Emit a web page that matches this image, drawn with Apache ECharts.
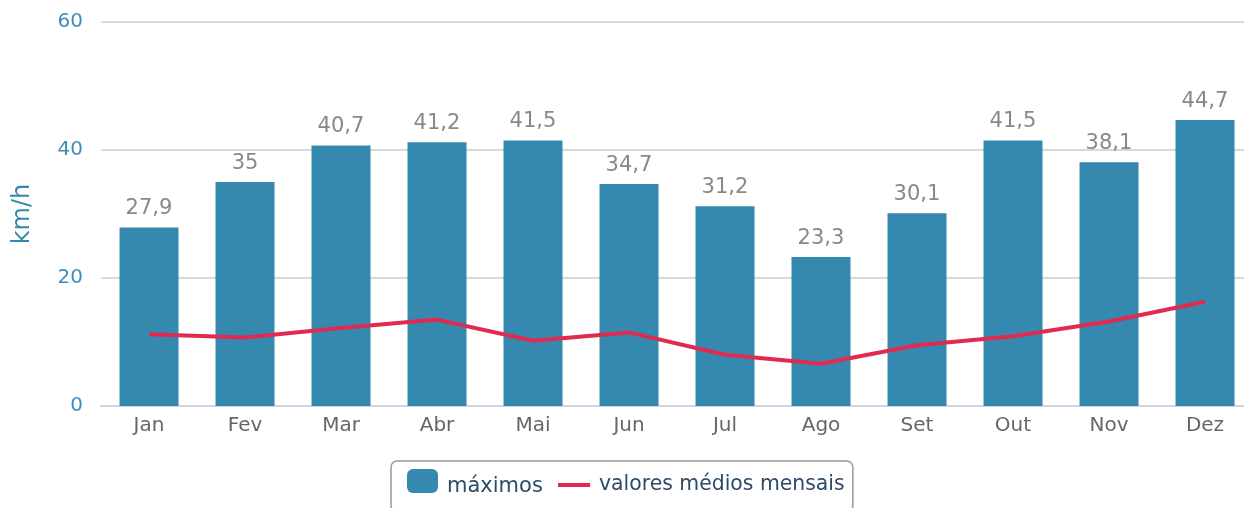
<!DOCTYPE html>
<html><head><meta charset="utf-8">
<script src="https://cdn.jsdelivr.net/npm/echarts@6/dist/echarts.min.js"></script>
<style>html,body{margin:0;padding:0;background:#fff}#c{width:1244px;height:508px}</style>
</head><body><div id="c"></div>
<script>
const categories = ['Jan','Fev','Mar','Abr','Mai','Jun','Jul','Ago','Set','Out','Nov','Dez'];
const maximos = [27.9, 35, 40.7, 41.2, 41.5, 34.7, 31.2, 23.3, 30.1, 41.5, 38.1, 44.7];
const medios = [11.2, 10.7, 12.2, 13.5, 10.2, 11.5, 8.0, 6.6, 9.5, 10.9, 13.2, 16.3];
const yTicks = [0, 20, 40, 60];

const font = 'DejaVu Sans';
const chart = echarts.init(document.getElementById('c'), null, {renderer: 'canvas'});
chart.setOption({
  animation: false,
  textStyle: {fontFamily: font},
  grid: {left: 101, top: 22, width: 1152, bottom: 102, outerBoundsMode: 'none', containLabel: false},
  legend: [
    {
      left: 391, top: 461,
      padding: [8, 310, 14, 16],
      borderColor: '#999', borderWidth: 1.5, borderRadius: 6,
      itemWidth: 31, itemHeight: 24,
      formatter: '{a|{name}}',
      textStyle: {fontFamily: font, fontSize: 21, color: '#2e4a68',
        rich: {a: {fontFamily: font, fontSize: 21, color: '#2e4a68', padding: [12, 0, 0, 4]}}},
      data: [{name: 'máximos', icon: 'roundRect'}]
    },
    {
      left: 558, top: 475,
      padding: 0,
      itemWidth: 32, itemHeight: 4,
      textStyle: {fontFamily: font, fontSize: 20.4, color: '#2e4a68', padding: [0, 0, 0, 4]},
      data: [{name: 'valores médios mensais', icon: 'rect'}]
    }
  ],
  xAxis: {
    type: 'category', data: categories,
    axisLine: {lineStyle: {color: '#ccd6eb', width: 2}},
    axisTick: {length: 10, lineStyle: {color: '#ccd6eb', width: 2}},
    axisLabel: {color: '#666', fontSize: 20, margin: 10, fontFamily: font}
  },
  yAxis: {
    type: 'value', min: yTicks[0], max: yTicks[yTicks.length - 1], interval: 20,
    name: 'km/h', nameLocation: 'middle', nameRotate: 90, nameGap: 66,
    nameTextStyle: {color: '#3587ae', fontSize: 24, fontFamily: font},
    axisLine: {show: false}, axisTick: {show: false},
    axisLabel: {color: '#3d8eb9', fontSize: 20, margin: 18, fontFamily: font},
    splitLine: {lineStyle: {color: '#cccccc', width: 1.5}}
  },
  series: [
    {
      name: 'máximos', type: 'bar', data: maximos, barWidth: 59,
      itemStyle: {color: '#3588ae'},
      label: {show: true, position: 'top', distance: 8, color: '#888', fontSize: 21, fontFamily: font,
        formatter: p => String(p.value).replace('.', ',')}
    },
    {
      name: 'valores médios mensais', type: 'line', data: medios,
      symbol: 'none', lineStyle: {color: '#e12a50', width: 4}, itemStyle: {color: '#e12a50'}
    }
  ]
});
</script></body></html>
